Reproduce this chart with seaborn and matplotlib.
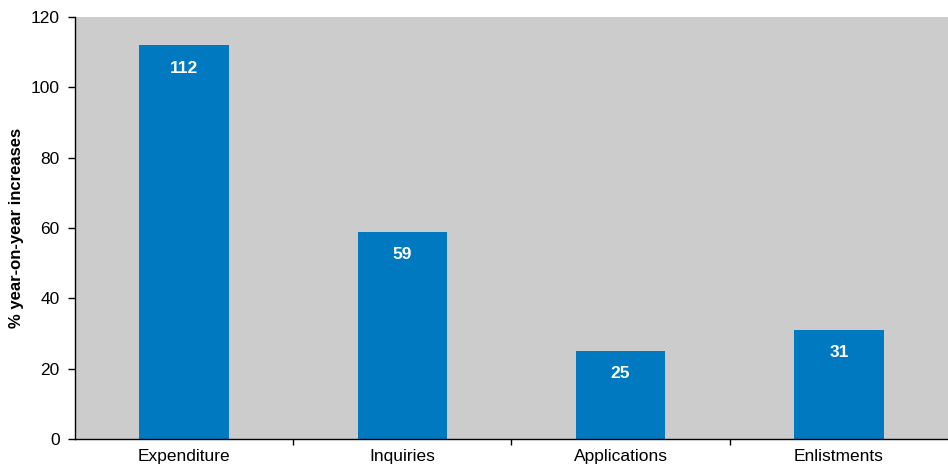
import matplotlib
matplotlib.use("Agg")
import matplotlib.pyplot as plt
import seaborn as sns
import pandas as pd

categories = ["Expenditure", "Inquiries", "Applications", "Enlistments"]
increases = [112, 59, 25, 31]
y_ticks = [0, 20, 40, 60, 80, 100, 120]

df = pd.DataFrame({"category": categories, "increase": increases})

sns.set_theme(style="white")
plt.rcParams["font.family"] = ["Liberation Sans", "DejaVu Sans"]
plt.rcParams["text.color"] = "black"
plt.rcParams["axes.labelcolor"] = "black"
plt.rcParams["xtick.color"] = "black"
plt.rcParams["ytick.color"] = "black"

fig = plt.figure(figsize=(9.48, 4.66), dpi=100)
ax = fig.add_axes([0.0791, 0.058, 0.9209, 0.9055])
ax.set_facecolor("#CCCCCC")

sns.barplot(data=df, x="category", y="increase", color="#0079C1",
            saturation=1, width=0.41, linewidth=0, ax=ax)

for patch, val in zip(ax.patches, increases):
    ax.annotate(str(val),
                xy=(patch.get_x() + patch.get_width() / 2, patch.get_height()),
                xytext=(0, -16.5), textcoords="offset points",
                ha="center", va="center", color="white",
                fontsize=12.5, fontweight="bold")

ax.set_ylim(0, 120)
ax.set_xlim(-0.5, 3.5)
ax.set_yticks(y_ticks)
ax.set_yticklabels([str(t) for t in y_ticks], fontsize=12.5)

# category boundaries carry the tick marks; names sit at bar centres
ax.set_xticks([0.5, 1.5, 2.5])
ax.set_xticklabels([])
ax.set_xticks(range(len(categories)), minor=True)
ax.set_xticklabels(categories, minor=True, fontsize=12.5)
ax.tick_params(axis="x", which="major", direction="out", length=4,
               width=1, color="black", bottom=True)
ax.tick_params(axis="x", which="minor", length=0, pad=7.5)
ax.tick_params(axis="y", direction="out", length=5, width=1,
               color="black", left=True, pad=6)

ax.set_xlabel("")
ax.set_ylabel("% year-on-year increases", fontsize=12, fontweight="bold",
              labelpad=5)

for side in ["top", "right"]:
    ax.spines[side].set_visible(False)
for side in ["left", "bottom"]:
    ax.spines[side].set_visible(True)
    ax.spines[side].set_color("black")
    ax.spines[side].set_linewidth(1)

fig.savefig("out.png", dpi=100)
